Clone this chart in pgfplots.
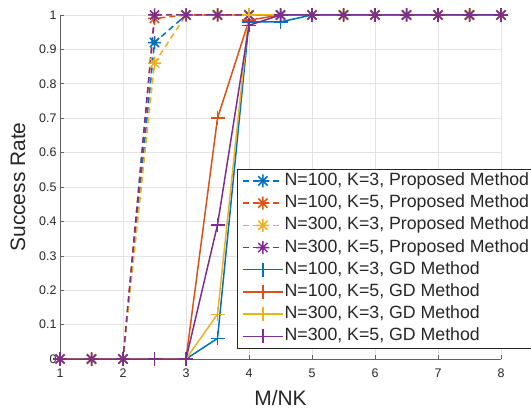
\documentclass[border=0pt]{standalone}
\usepackage{pgfplots}
\usepackage{pgfplotstable}
\pgfplotsset{compat=1.18}
\usepackage{fontspec}
\setmainfont{Liberation Sans}
\definecolor{c1}{rgb}{0,0.447,0.741}
\definecolor{c2}{rgb}{0.85,0.325,0.098}
\definecolor{c3}{rgb}{0.929,0.694,0.125}
\definecolor{c4}{rgb}{0.494,0.184,0.556}
\definecolor{axgray}{rgb}{0.38,0.38,0.38}
\definecolor{txtgray}{rgb}{0.15,0.15,0.15}
\pgfdeclareplotmark{mstar}{%
  \pgfpathmoveto{\pgfqpoint{-\pgfplotmarksize}{0pt}}\pgfpathlineto{\pgfqpoint{\pgfplotmarksize}{0pt}}%
  \pgfpathmoveto{\pgfqpoint{0pt}{-\pgfplotmarksize}}\pgfpathlineto{\pgfqpoint{0pt}{\pgfplotmarksize}}%
  \pgfpathmoveto{\pgfqpoint{-.707\pgfplotmarksize}{-.707\pgfplotmarksize}}\pgfpathlineto{\pgfqpoint{.707\pgfplotmarksize}{.707\pgfplotmarksize}}%
  \pgfpathmoveto{\pgfqpoint{-.707\pgfplotmarksize}{.707\pgfplotmarksize}}\pgfpathlineto{\pgfqpoint{.707\pgfplotmarksize}{-.707\pgfplotmarksize}}%
  \pgfusepathqstroke}

\pgfplotstableread{
x    a     b     c     d
1    0     0     0     0
1.5  0     0     0     0
2    0     0     0     0
2.5  0.92  0.99  0.86  1
3    1     1     1     1
3.5  1     1     1     1
4    1     1     1     1
4.5  1     1     1     1
5    1     1     1     1
5.5  1     1     1     1
6    1     1     1     1
6.5  1     1     1     1
7    1     1     1     1
7.5  1     1     1     1
8    1     1     1     1
}\proposed

\pgfplotstableread{
x    a     b     c     d
1    0     0     0     0
1.5  0     0     0     0
2    0     0     0     0
2.5  0     0     0     0
3    0     0     0     0
3.5  0.06  0.70  0.13  0.39
4    0.98  0.985 1     0.97
4.5  0.98  1     1     1
5    1     1     1     1
5.5  1     1     1     1
6    1     1     1     1
6.5  1     1     1     1
7    1     1     1     1
7.5  1     1     1     1
8    1     1     1     1
}\gd

\begin{document}
\begin{tikzpicture}
\begin{axis}[
  scale only axis, width=441bp, height=344bp,
  xmin=1, xmax=8, ymin=0, ymax=1,
  xtick={1,2,3,4,5,6,7,8},
  ytick={0,0.1,0.2,0.3,0.4,0.5,0.6,0.7,0.8,0.9,1},
  yticklabel style={/pgf/number format/fixed,/pgf/number format/precision=1},
  xticklabel style={yshift=-6bp},
  /pgf/number format/assume math mode=true,
  axis x line*=bottom, axis y line*=left,
  axis line style={axgray, line width=0.6bp, -},
  tick align=inside,
  major tick length=4bp,
  tick style={axgray, line width=0.6bp},
  grid=major,
  major grid style={gray!22, line width=0.6bp},
  ticklabel style={font=\fontsize{12.5}{15}\selectfont, text=txtgray},
  label style={font=\fontsize{21}{25}\selectfont, text=txtgray},
  xlabel={M/NK}, ylabel={Success Rate},
  xlabel style={yshift=-6bp},
  ylabel style={yshift=7bp},
  clip=false,
  mark size=6.5bp,
  legend cell align=left,
  legend image code/.code={%
    \draw[mark repeat=2,mark phase=2,#1] plot coordinates {(0bp,0bp)(20bp,0bp)(40bp,0bp)};},
  legend style={at={(0.401,0.552)}, anchor=north west,
    draw=txtgray, line width=0.6bp, fill=white,
    font=\fontsize{17.8}{21}\selectfont, text=txtgray,
    inner xsep=5bp, inner ysep=2bp, row sep=3.2bp,
    nodes={inner sep=1bp, text height=13bp, text depth=4bp}},
]
\coordinate (ll) at (rel axis cs:0,0);
\coordinate (ur) at (rel axis cs:1,1);
\addplot[c1, line width=1.5bp, dash pattern=on 6bp off 4bp, mark=mstar, mark options={solid}] table[x=x,y=a] {\proposed};
\addlegendentry{N=100, K=3, Proposed Method}
\addplot[c2, line width=1.5bp, dash pattern=on 6bp off 4bp, mark=mstar, mark options={solid}] table[x=x,y=b] {\proposed};
\addlegendentry{N=100, K=5, Proposed Method}
\addplot[c3, line width=1.5bp, dash pattern=on 6bp off 4bp, mark=mstar, mark options={solid}] table[x=x,y=c] {\proposed};
\addlegendentry{N=300, K=3, Proposed Method}
\addplot[c4, line width=1.5bp, dash pattern=on 6bp off 4bp, mark=mstar, mark options={solid}] table[x=x,y=d] {\proposed};
\addlegendentry{N=300, K=5, Proposed Method}
\addplot[c1, line width=1.5bp, solid, mark=+, mark size=7bp] table[x=x,y=a] {\gd};
\addlegendentry{N=100, K=3, GD Method}
\addplot[c2, line width=1.5bp, solid, mark=+, mark size=7bp] table[x=x,y=b] {\gd};
\addlegendentry{N=100, K=5, GD Method}
\addplot[c3, line width=1.5bp, solid, mark=+, mark size=7bp] table[x=x,y=c] {\gd};
\addlegendentry{N=300, K=3, GD Method}
\addplot[c4, line width=1.5bp, solid, mark=+, mark size=7bp] table[x=x,y=d] {\gd};
\addlegendentry{N=300, K=5, GD Method}
\end{axis}
\pgfresetboundingbox
\path ([shift={(-60bp,-52bp)}]ll) rectangle ([shift={(30bp,15bp)}]ur);
\end{tikzpicture}
\end{document}
